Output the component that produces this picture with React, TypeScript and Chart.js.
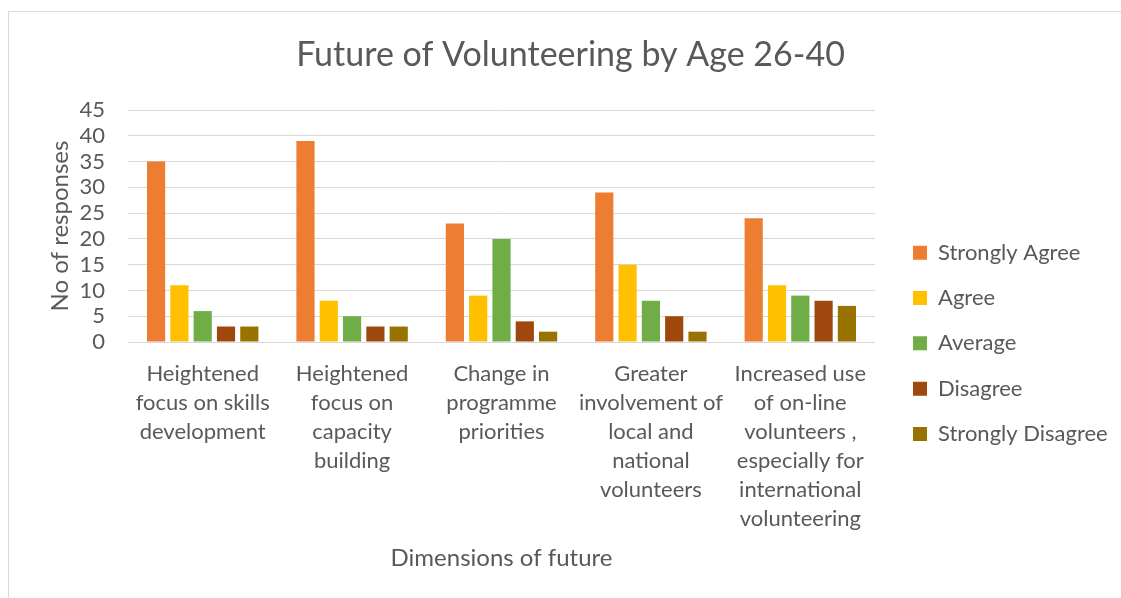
import React, { useEffect, useRef } from "react";
import { Chart, registerables } from "chart.js";

Chart.register(...registerables);

const chartTitle = "Future of Volunteering by Age 26-40";
const xAxisTitle = "Dimensions of future";
const yAxisTitle = "No of responses";

const categories: string[][] = [
  ["Heightened", "focus on skills", "development"],
  ["Heightened", "focus on", "capacity", "building"],
  ["Change in", "programme", "priorities"],
  ["Greater", "involvement of", "local and", "national", "volunteers"],
  ["Increased use", "of on-line", "volunteers ,", "especially for", "international", "volunteering"],
];

const seriesNames = ["Strongly Agree", "Agree", "Average", "Disagree", "Strongly Disagree"];
const stronglyAgree = [35, 39, 23, 29, 24];
const agree = [11, 8, 9, 15, 11];
const average = [6, 5, 20, 8, 9];
const disagree = [3, 3, 4, 5, 8];
const stronglyDisagree = [3, 3, 2, 2, 7];
const seriesValues = [stronglyAgree, agree, average, disagree, stronglyDisagree];
const seriesColors = ["#ED7D31", "#FFC000", "#70AD47", "#9E480E", "#997300"];

const yMin = 0;
const yMax = 45;
const yStep = 5;

const W = 1123;
const H = 648;

export default function App() {
  const ref = useRef<HTMLCanvasElement>(null);

  useEffect(() => {
    const family = 'Lato, "Open Sans", sans-serif';
    const textColor = "#595959";
    const chart = new Chart(ref.current as HTMLCanvasElement, {
      type: "bar",
      data: {
        labels: categories,
        datasets: seriesNames.map((name, i) => ({
          label: name,
          data: seriesValues[i],
          backgroundColor: seriesColors[i],
          borderWidth: 0,
          categoryPercentage: 0.78,
          barPercentage: 0.78,
        })),
      },
      options: {
        animation: false,
        responsive: false,
        devicePixelRatio: 1,
        layout: { padding: 0 },
        plugins: {
          title: {
            display: true,
            text: chartTitle,
            color: textColor,
            font: { family, size: 34, weight: "normal", lineHeight: 1.2 },
            padding: { top: 22.6, bottom: 34.6 },
          },
          legend: {
            position: "right",
            labels: {
              boxWidth: 14,
              boxHeight: 14,
              padding: 38,
              color: textColor,
              font: { family, size: 22, lineHeight: 0.33 },
              generateLabels: (c: any) =>
                Chart.defaults.plugins.legend.labels
                  .generateLabels(c)
                  .map((l: any) => ({ ...l, text: [l.text], lineWidth: 0 })),
            },
          },
          tooltip: { enabled: false },
        },
        scales: {
          x: {
            grid: { display: false, drawTicks: false },
            border: { display: false },
            ticks: {
              color: textColor,
              font: { family, size: 22, lineHeight: 1.318 },
              padding: 17.5,
              maxRotation: 0,
              autoSkip: false,
            },
            title: {
              display: true,
              text: xAxisTitle,
              color: textColor,
              font: { family, size: 24, lineHeight: 1.2 },
              padding: { top: 0, bottom: 87.6 },
            },
            afterFit: (s: any) => {
              s.height = H - 330;
              s.paddingRight = W - 866;
            },
          },
          y: {
            min: yMin,
            max: yMax,
            ticks: {
              stepSize: yStep,
              autoSkip: false,
              color: textColor,
              font: { family, size: 22 },
              padding: 23,
            },
            grid: { color: "#d9d9d9", lineWidth: 1, drawTicks: false },
            border: { display: false },
            title: {
              display: true,
              text: yAxisTitle,
              color: textColor,
              font: { family, size: 24, lineHeight: 1.2 },
              padding: { top: 36.6, bottom: 0 },
            },
            afterFit: (s: any) => {
              s.width = 119;
            },
          },
        },
      },
    } as any);
    return () => chart.destroy();
  }, []);

  return (
    <div style={{ position: "fixed", inset: 0, overflow: "hidden", background: "#fff" }}>
      <div
        style={{
          position: "absolute",
          left: 8,
          top: 11,
          width: W,
          height: H,
          borderLeft: "1px solid #d9d9d9",
          borderTop: "1px solid #d9d9d9",
        }}
      >
        <canvas ref={ref} width={W} height={H} style={{ display: "block", width: W, height: H }} />
      </div>
    </div>
  );
}
